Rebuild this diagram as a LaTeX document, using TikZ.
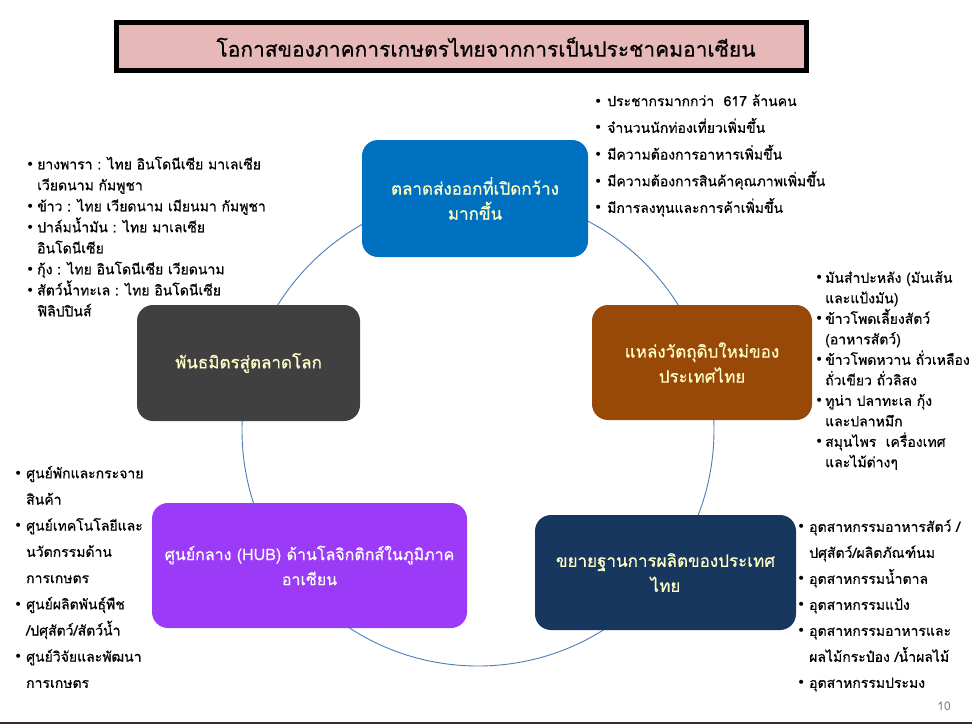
\documentclass[tikz,border=0pt]{standalone}
\usepackage{fontspec}
\newfontfamily\thai[Script=Thai]{Loma}
\newfontfamily\thaid[Script=Thai,FakeBold=0.6]{Loma}
\newfontfamily\bulf{DejaVu Sans}
\definecolor{titlepink}{HTML}{E6B9B8}
\definecolor{cblue}{HTML}{0070C0}
\definecolor{cbrown}{HTML}{984807}
\definecolor{cnavy}{HTML}{17375E}
\definecolor{cpurple}{HTML}{9B3BF7}
\definecolor{cgray}{HTML}{404040}
\definecolor{cyel}{HTML}{FFFFC8}
\definecolor{ringblue}{HTML}{4A7EBB}
\definecolor{stripdark}{HTML}{3B2C2C}
\newcommand{\bi}[1][12pt]{\makebox[#1][l]{\bulf\fontsize{14}{14}\selectfont •}}
\newcommand{\bc}[1][12pt]{\hspace*{#1}}
\tikzset{
  box/.style={rounded corners=16pt, draw=none, text=cyel, align=center,
    font=\thaid\fontsize{17}{25}\selectfont, inner sep=0pt},
  blist/.style={anchor=west, align=left, inner sep=0pt, text=black},
  ring/.style={draw=ringblue, line width=0.9pt},
}
\begin{document}
\begin{tikzpicture}[x=1pt,y=-1pt]
\useasboundingbox (0,0) rectangle (972,724);
\fill[white] (0,0) rectangle (972,724);
% ring behind nodes
\coordinate (ctr) at (478,430);
\draw[ring] (ctr) circle[radius=236];
% title
\node[draw=black, line width=5pt, fill=titlepink, minimum width=690pt, minimum height=48pt, inner sep=0pt] (title) at (461,46.5) {};
\node[font=\thaid\fontsize{21}{24}\selectfont, inner sep=0pt] (titletext) at (486,47) {โอกาสของภาคการเกษตรไทยจากการเป็นประชาคมอาเซียน};
% main boxes
\node[box, fill=cblue, minimum width=226pt, minimum height=117pt] (top) at (475,198.5) {ตลาดส่งออกที่เปิดกว้าง\\มากขึ้น};
\node[box, fill=cbrown, minimum width=220pt, minimum height=115pt] (right) at (702,362.5) {แหล่งวัตถุดิบใหม่ของ\\ประเทศไทย};
\node[box, fill=cnavy, minimum width=261pt, minimum height=115pt] (bright) at (665.5,572.5) {ขยายฐานการผลิตของประเทศ\\ไทย};
\node[box, fill=cpurple, text=white, font=\thaid\fontsize{16}{25}\selectfont, minimum width=315pt, minimum height=125pt] (bleft) at (309.5,565.5) {ศูนย์กลาง (HUB) ด้านโลจิกติกส์ในภูมิภาค\\อาเซียน};
\node[box, fill=cgray, minimum width=223pt, minimum height=116pt] (left) at (248.5,363) {พันธมิตรสู่ตลาดโลก};
% bullet lists
\node[blist, font=\thaid\fontsize{14}{26.7}\selectfont] (ltop) at (594,155.5) {%
\bi[13pt]ประชากรมากกว่า\ \ 617 ล้านคน\\
\bi[13pt]จำนวนนักท่องเที่ยวเพิ่มขึ้น\\
\bi[13pt]มีความต้องการอาหารเพิ่มขึ้น\\
\bi[13pt]มีความต้องการสินค้าคุณภาพเพิ่มขึ้น\\
\bi[13pt]มีการลงทุนและการค้าเพิ่มขึ้น};
\node[blist, font=\thaid\fontsize{14}{21}\selectfont] (lleft) at (26,236.5) {%
\bi[11pt]ยางพารา : ไทย อินโดนีเซีย มาเลเซีย\\
\bc[11pt]เวียดนาม กัมพูชา\\
\bi[11pt]ข้าว : ไทย เวียดนาม เมียนมา กัมพูชา\\
\bi[11pt]ปาล์มน้ำมัน : ไทย มาเลเซีย\\
\bc[11pt]อินโดนีเซีย\\
\bi[11pt]กุ้ง : ไทย อินโดนีเซีย เวียดนาม\\
\bi[11pt]สัตว์น้ำทะเล : ไทย อินโดนีเซีย\\
\bc[11pt]ฟิลิปปินส์};
\node[blist, font=\thaid\fontsize{14}{20.5}\selectfont] (lright) at (815,370.5) {%
\bi[10pt]มันสำปะหลัง (มันเส้น\\
\bc[10pt]และแป้งมัน)\\
\bi[10pt]ข้าวโพดเลี้ยงสัตว์\\
\bc[10pt](อาหารสัตว์)\\
\bi[10pt]ข้าวโพดหวาน ถั่วเหลือง\\
\bc[10pt]ถั่วเขียว ถั่วลิสง\\
\bi[10pt]ทูน่า ปลาทะเล กุ้ง\\
\bc[10pt]และปลาหมึก\\
\bi[10pt]สมุนไพร\ \ เครื่องเทศ\\
\bc[10pt]และไม้ต่างๆ};
\node[blist, font=\thaid\fontsize{14}{26}\selectfont] (lbright) at (797,605.5) {%
\bi อุตสาหกรรมอาหารสัตว์ /\\
\bc ปศุสัตว์/ผลิตภัณฑ์นม\\
\bi อุตสาหกรรมน้ำตาล\\
\bi อุตสาหกรรมแป้ง\\
\bi อุตสาหกรรมอาหารและ\\
\bc ผลไม้กระป๋อง /น้ำผลไม้\\
\bi อุตสาหกรรมประมง};
\node[blist, font=\thaid\fontsize{14}{26.2}\selectfont] (lbleft) at (14,577) {%
\bi ศูนย์พักและกระจาย\\
\bc สินค้า\\
\bi ศูนย์เทคโนโลยีและ\\
\bc นวัตกรรมด้าน\\
\bc การเกษตร\\
\bi ศูนย์ผลิตพันธุ์พืช\\
\bc /ปศุสัตว์/สัตว์น้ำ\\
\bi ศูนย์วิจัยและพัฒนา\\
\bc การเกษตร};
% page number and bottom strip
\node[font=\thai\fontsize{12}{12}\selectfont, text=gray, inner sep=0pt] (pnum) at (944,706) {10};
\fill[stripdark] (0,722) rectangle (972,724);
\end{tikzpicture}
\end{document}
